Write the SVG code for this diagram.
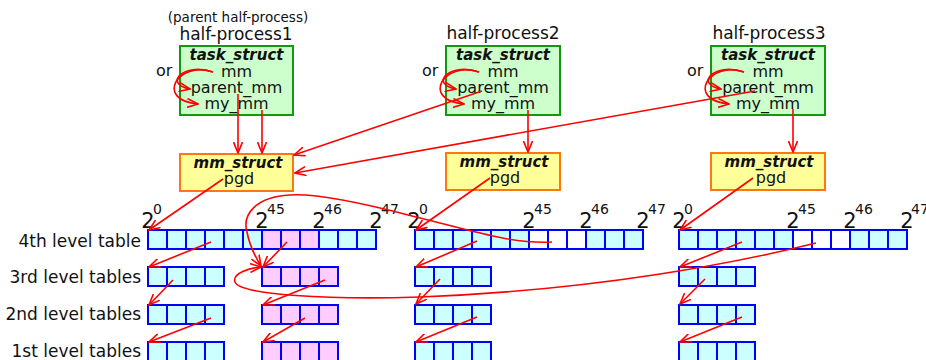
<svg xmlns="http://www.w3.org/2000/svg" width="926" height="360" viewBox="0 0 926 360">
  <style>
    text { font-family: "DejaVu Sans", "Liberation Sans", sans-serif; fill: #111; }
    .t { font-size: 16px; text-anchor: middle; }
    .h { font-size: 17px; text-anchor: middle; }
    .b { font-size: 15px; font-weight: bold; font-style: italic; text-anchor: middle; }
    .lbl { font-size: 17px; text-anchor: end; }
    .two { font-size: 21px; text-anchor: middle; }
    .sup { font-size: 14px; }
    .task { fill: #ccffcc; stroke: #119911; stroke-width: 2; }
    .mms { fill: #ffff99; stroke: #ff7711; stroke-width: 2; }
    .cy { fill: #ccffff; stroke: #0000ff; stroke-width: 2; }
    .pk { fill: #ffccff; stroke: #0000ff; stroke-width: 2; }
    .wh { fill: #ffffff; stroke: #0000ff; stroke-width: 2; }
    .arr { fill: none; stroke: #ff0000; stroke-width: 1.6; marker-end: url(#ah); }
  </style>
  <defs>
    <marker id="ah" viewBox="0 0 12 10" refX="11" refY="5" markerWidth="12" markerHeight="10" markerUnits="userSpaceOnUse" orient="auto">
      <path d="M0,0.5 L11,5 L0,9.5" fill="none" stroke="#ff0000" stroke-width="1.6"/>
    </marker>
    <rect id="c" width="19" height="19"/>
  </defs>

  <!-- half-process 1 -->
  <g id="hp1">
    <text x="238" y="22" class="t" style="font-size:13.5px">(parent half-process)</text>
    <text x="236" y="40" class="h">half-process1</text>
    <rect x="180" y="46" width="113" height="69" class="task"/>
    <text x="236.5" y="60" class="b">task_struct</text>
    <text x="236.5" y="77" class="t">mm</text>
    <text x="236.5" y="93" class="t">parent_mm</text>
    <text x="236.5" y="109" class="t">my_mm</text>
    <text x="156" y="76" style="font-size:16px">or</text>
  </g>
  <g id="mm1">
    <rect x="180" y="154" width="113" height="37" class="mms"/>
    <text x="238" y="168" class="b">mm_struct</text>
    <text x="239" y="184" class="t">pgd</text>
  </g>

  <!-- half-process 2 -->
  <g id="hp2">
    <text x="503" y="39" class="h">half-process2</text>
    <rect x="446" y="46" width="114" height="69" class="task"/>
    <text x="503" y="60" class="b">task_struct</text>
    <text x="503" y="77" class="t">mm</text>
    <text x="503" y="93" class="t">parent_mm</text>
    <text x="503" y="109" class="t">my_mm</text>
    <text x="422" y="76" style="font-size:16px">or</text>
  </g>
  <g id="mm2">
    <rect x="446" y="153" width="114" height="37" class="mms"/>
    <text x="504" y="167" class="b">mm_struct</text>
    <text x="505" y="183" class="t">pgd</text>
  </g>

  <!-- half-process 3 -->
  <g id="hp3">
    <text x="769" y="39" class="h">half-process3</text>
    <rect x="711" y="46" width="114" height="69" class="task"/>
    <text x="768" y="60" class="b">task_struct</text>
    <text x="768" y="77" class="t">mm</text>
    <text x="768" y="93" class="t">parent_mm</text>
    <text x="768" y="109" class="t">my_mm</text>
    <text x="687" y="76" style="font-size:16px">or</text>
  </g>
  <g id="mm3">
    <rect x="711" y="153" width="114" height="37" class="mms"/>
    <text x="769" y="167" class="b">mm_struct</text>
    <text x="771" y="183" class="t">pgd</text>
  </g>

  <!-- row labels -->
  <g id="labels">
    <text x="141" y="247" class="lbl">4th level table</text>
    <text x="141" y="283" class="lbl">3rd level tables</text>
    <text x="141" y="320" class="lbl">2nd level tables</text>
    <text x="141" y="357" class="lbl">1st level tables</text>
  </g>

  <!-- address marks above each 4th level table -->
  <g id="marks">
    <text x="148" y="228" class="two">2</text><text x="153" y="214" class="sup">0</text>
    <text x="262" y="228" class="two">2</text><text x="267" y="214" class="sup">45</text>
    <text x="319" y="228" class="two">2</text><text x="324" y="214" class="sup">46</text>
    <text x="376" y="228" class="two">2</text><text x="381" y="214" class="sup">47</text>

    <text x="414" y="228" class="two">2</text><text x="419" y="214" class="sup">0</text>
    <text x="529" y="228" class="two">2</text><text x="534" y="214" class="sup">45</text>
    <text x="586" y="228" class="two">2</text><text x="591" y="214" class="sup">46</text>
    <text x="643" y="228" class="two">2</text><text x="648" y="214" class="sup">47</text>

    <text x="679" y="228" class="two">2</text><text x="684" y="214" class="sup">0</text>
    <text x="793" y="228" class="two">2</text><text x="798" y="214" class="sup">45</text>
    <text x="850" y="228" class="two">2</text><text x="855" y="214" class="sup">46</text>
    <text x="907" y="228" class="two">2</text><text x="911" y="214" class="sup">47</text>
  </g>

  <!-- page tables of half-process 1 -->
  <g id="tables1">
    <use href="#c" x="148" y="230" class="cy"/><use href="#c" x="167" y="230" class="cy"/>
    <use href="#c" x="186" y="230" class="cy"/><use href="#c" x="205" y="230" class="cy"/>
    <use href="#c" x="224" y="230" class="cy"/><use href="#c" x="243" y="230" class="cy"/>
    <use href="#c" x="262" y="230" class="pk"/><use href="#c" x="281" y="230" class="pk"/>
    <use href="#c" x="300" y="230" class="pk"/><use href="#c" x="319" y="230" class="cy"/>
    <use href="#c" x="338" y="230" class="cy"/><use href="#c" x="357" y="230" class="cy"/>

    <use href="#c" x="148" y="267" class="cy"/><use href="#c" x="167" y="267" class="cy"/>
    <use href="#c" x="186" y="267" class="cy"/><use href="#c" x="205" y="267" class="cy"/>
    <use href="#c" x="262" y="267" class="pk"/><use href="#c" x="281" y="267" class="pk"/>
    <use href="#c" x="300" y="267" class="pk"/><use href="#c" x="319" y="267" class="pk"/>

    <use href="#c" x="148" y="305" class="cy"/><use href="#c" x="167" y="305" class="cy"/>
    <use href="#c" x="186" y="305" class="cy"/><use href="#c" x="205" y="305" class="cy"/>
    <use href="#c" x="262" y="305" class="pk"/><use href="#c" x="281" y="305" class="pk"/>
    <use href="#c" x="300" y="305" class="pk"/><use href="#c" x="319" y="305" class="pk"/>

    <use href="#c" x="148" y="342" class="cy"/><use href="#c" x="167" y="342" class="cy"/>
    <use href="#c" x="186" y="342" class="cy"/><use href="#c" x="205" y="342" class="cy"/>
    <use href="#c" x="262" y="342" class="pk"/><use href="#c" x="281" y="342" class="pk"/>
    <use href="#c" x="300" y="342" class="pk"/><use href="#c" x="319" y="342" class="pk"/>
  </g>

  <!-- page tables of half-process 2 -->
  <g id="tables2">
    <use href="#c" x="415" y="230" class="cy"/><use href="#c" x="434" y="230" class="cy"/>
    <use href="#c" x="453" y="230" class="cy"/><use href="#c" x="472" y="230" class="cy"/>
    <use href="#c" x="491" y="230" class="cy"/><use href="#c" x="510" y="230" class="cy"/>
    <use href="#c" x="529" y="230" class="wh"/><use href="#c" x="548" y="230" class="wh"/>
    <use href="#c" x="567" y="230" class="wh"/><use href="#c" x="586" y="230" class="cy"/>
    <use href="#c" x="605" y="230" class="cy"/><use href="#c" x="624" y="230" class="cy"/>

    <use href="#c" x="415" y="267" class="cy"/><use href="#c" x="434" y="267" class="cy"/>
    <use href="#c" x="453" y="267" class="cy"/><use href="#c" x="472" y="267" class="cy"/>
    <use href="#c" x="415" y="305" class="cy"/><use href="#c" x="434" y="305" class="cy"/>
    <use href="#c" x="453" y="305" class="cy"/><use href="#c" x="472" y="305" class="cy"/>
    <use href="#c" x="415" y="342" class="cy"/><use href="#c" x="434" y="342" class="cy"/>
    <use href="#c" x="453" y="342" class="cy"/><use href="#c" x="472" y="342" class="cy"/>
  </g>

  <!-- page tables of half-process 3 -->
  <g id="tables3">
    <use href="#c" x="679" y="230" class="cy"/><use href="#c" x="698" y="230" class="cy"/>
    <use href="#c" x="717" y="230" class="cy"/><use href="#c" x="736" y="230" class="cy"/>
    <use href="#c" x="755" y="230" class="cy"/><use href="#c" x="774" y="230" class="cy"/>
    <use href="#c" x="793" y="230" class="wh"/><use href="#c" x="812" y="230" class="wh"/>
    <use href="#c" x="831" y="230" class="wh"/><use href="#c" x="850" y="230" class="cy"/>
    <use href="#c" x="869" y="230" class="cy"/><use href="#c" x="888" y="230" class="cy"/>

    <use href="#c" x="679" y="267" class="cy"/><use href="#c" x="698" y="267" class="cy"/>
    <use href="#c" x="717" y="267" class="cy"/><use href="#c" x="736" y="267" class="cy"/>
    <use href="#c" x="679" y="305" class="cy"/><use href="#c" x="698" y="305" class="cy"/>
    <use href="#c" x="717" y="305" class="cy"/><use href="#c" x="736" y="305" class="cy"/>
    <use href="#c" x="679" y="342" class="cy"/><use href="#c" x="698" y="342" class="cy"/>
    <use href="#c" x="717" y="342" class="cy"/><use href="#c" x="736" y="342" class="cy"/>
  </g>

  <!-- pointers -->
  <g id="connectors">
    <!-- mm may point at parent_mm or my_mm -->
    <path class="arr" d="M213,72 C183,62 163,84 190,89"/>
    <path class="arr" d="M213,72 C178,60 154,100 198,104"/>
    <path class="arr" d="M479,72 C449,62 429,84 456,89"/>
    <path class="arr" d="M479,72 C444,60 420,100 464,104"/>
    <path class="arr" d="M744,72 C714,62 694,84 721,89"/>
    <path class="arr" d="M744,72 C709,60 685,100 729,104"/>

    <!-- task_struct to mm_struct -->
    <path class="arr" d="M238,94 L238,153"/>
    <path class="arr" d="M262,110 L262,153"/>
    <path class="arr" d="M482,91 L294,155"/>
    <path class="arr" d="M528,110 L528,152"/>
    <path class="arr" d="M755,91 L295,173"/>
    <path class="arr" d="M793,109 L793,152"/>

    <!-- pgd to 4th level tables -->
    <path class="arr" d="M223,179 L149,230"/>
    <path class="arr" d="M490,178 L416,230"/>
    <path class="arr" d="M753,178 L680,230"/>

    <!-- table walk, half-process 1 -->
    <path class="arr" d="M211,242 L149,267"/>
    <path class="arr" d="M287,242 L263,267"/>
    <path class="arr" d="M173,280 L149,305"/>
    <path class="arr" d="M325,280 L263,305"/>
    <path class="arr" d="M211,318 L149,342"/>
    <path class="arr" d="M305,318 L263,342"/>

    <!-- table walk, half-process 2 -->
    <path class="arr" d="M477,241 L416,267"/>
    <path class="arr" d="M440,279 L416,304"/>
    <path class="arr" d="M477,317 L416,342"/>

    <!-- table walk, half-process 3 -->
    <path class="arr" d="M742,242 L680,267"/>
    <path class="arr" d="M705,279 L680,304"/>
    <path class="arr" d="M742,317 L680,342"/>

    <!-- shared 3rd level table -->
    <path class="arr" d="M552,242 C510,244 470,230 412,216 C370,205 320,193 290,195 C255,197 242,215 247,232 C250,248 256,258 261,266"/>
    <path class="arr" d="M816,243 C740,262 600,290 420,297 C330,300 240,295 235,282 C232,273 250,268 261,267"/>
  </g>
</svg>
